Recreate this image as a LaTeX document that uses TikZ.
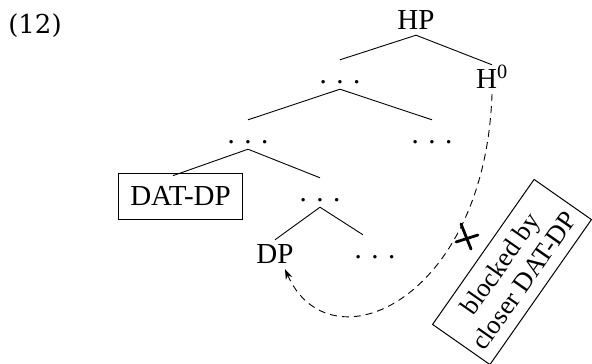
\documentclass[tikz,border=0pt]{standalone}
\usepackage{fontspec}
\newfontfamily\arbolfont{Liberation Serif}
\newfontfamily\numfont{DejaVu Serif}
\usepackage{tikz}
\usetikzlibrary{positioning, arrows.meta}

\tikzset{
    arbol/.style={font=\arbolfont\fontsize{29}{32}\selectfont, inner xsep=2pt, inner ysep=6pt,
                  text height=17pt, text depth=0pt, anchor=base},
    rama/.style={line width=0.9pt},
    movimiento/.style={dashed, dash pattern=on 7pt off 5pt, line width=0.9pt},
    bloqueo/.style={draw, line width=1pt, rotate=55, align=center,
                    font=\arbolfont\fontsize{26.5}{29}\selectfont,
                    minimum width=177pt, minimum height=70pt, inner sep=2pt}
}
\newcommand{\puntos}{.\hspace{0.33em}.\hspace{0.33em}.}

\begin{document}
\begin{tikzpicture}[x=1pt, y=-1pt]
        \useasboundingbox (0,0) rectangle (592,364);
        % Numero del ejemplo
        \node[font=\numfont\fontsize{26}{30}\selectfont] (num) at (35,26) {(12)};
        % Nodos del arbol
        \node[arbol] (hp) at (416,29) {HP};
        \node[arbol] (u1) at (340,83) {\puntos};
        \node[arbol] (h0) at (492,88) {H\textsuperscript{0}};
        \node[arbol] (u2) at (248,143) {\puntos};
        \node[arbol] (u3) at (432,143) {\puntos};
        \node[arbol, draw, line width=1pt, inner xsep=12pt, inner ysep=14.5pt] (dat) at (180.5,205) {DAT-DP};
        \node[arbol] (u4) at (320,201) {\puntos};
        \node[arbol] (dp) at (275,263) {DP};
        \node[arbol] (u5) at (375,258) {\puntos};
        % Ramas
        \draw[rama] (hp.south) -- (u1.north);
        \draw[rama] (hp.south) -- (h0.north);
        \draw[rama] (u1.south) -- (u2.north);
        \draw[rama] (u1.south) -- (u3.north);
        \draw[rama, shorten >=-8pt] (u2.south) -- (dat.north);
        \draw[rama] (u2.south) -- (u4.north);
        \draw[rama] (u4.south) -- (dp.north);
        \draw[rama] (u4.south) -- ([xshift=-12pt]u5.north);
        % Movimiento bloqueado
        \draw[movimiento, -{Stealth[length=10pt, width=7pt, inset=3pt]}]
            (h0.south) .. controls (485,300) and (330,370) .. ([xshift=10pt]dp.south);
        \coordinate (cruz) at (467,237);
        \draw[line width=2.8pt, line cap=round] ([shift={(-6,-13)}]cruz) -- ([shift={(4,12)}]cruz);
        \draw[line width=2.8pt, line cap=round] ([shift={(-11,5)}]cruz) -- ([shift={(11,-2)}]cruz);
        \node[bloqueo] (nota) at (512,272) {blocked by\\closer DAT-DP};
    \end{tikzpicture}
\end{document}
